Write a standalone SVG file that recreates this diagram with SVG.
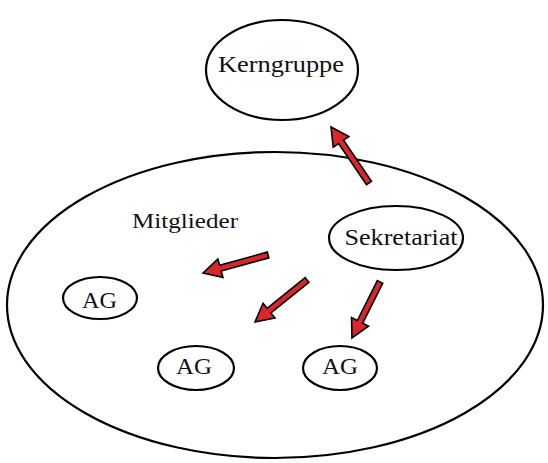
<svg xmlns="http://www.w3.org/2000/svg" width="548" height="463" viewBox="0 0 548 463">
<style>
.n{fill:#fff;stroke:#000;stroke-width:2.2}
.t{font-family:"Liberation Serif","DejaVu Serif",serif;font-size:24px;fill:#111;text-anchor:middle}
.s{font-size:23px}
.a{fill:#d8262b;stroke:#000;stroke-width:1.6;stroke-linejoin:miter}
</style>
<rect width="548" height="463" fill="#fff"/>
<g id="mitglieder">
<ellipse class="n" cx="275" cy="305" rx="268" ry="153"/>
<text class="t" x="185" y="228" style="font-size:22px" textLength="106" lengthAdjust="spacingAndGlyphs">Mitglieder</text>
</g>
<g id="kerngruppe">
<ellipse class="n" cx="282" cy="70" rx="76" ry="50"/>
<text class="t" x="281" y="72" textLength="126" lengthAdjust="spacingAndGlyphs">Kerngruppe</text>
</g>
<g id="sekretariat">
<ellipse class="n" cx="396" cy="238" rx="67" ry="32"/>
<text class="t" x="401" y="245" textLength="113" lengthAdjust="spacingAndGlyphs">Sekretariat</text>
</g>
<g id="ag1">
<ellipse class="n" cx="100" cy="298" rx="37" ry="21"/>
<text class="t s" x="99.5" y="308" textLength="35" lengthAdjust="spacingAndGlyphs">AG</text>
</g>
<g id="ag2">
<ellipse class="n" cx="196" cy="368" rx="38" ry="22"/>
<text class="t s" x="194" y="374" textLength="36" lengthAdjust="spacingAndGlyphs">AG</text>
</g>
<g id="ag3">
<ellipse class="n" cx="340" cy="368" rx="37" ry="22"/>
<text class="t s" x="340" y="374" textLength="36" lengthAdjust="spacingAndGlyphs">AG</text>
</g>
<g id="connectors">
<g transform="translate(369,183) rotate(-124.16)"><polygon class="a" points="0,-3 49.7,-3 49.7,-9.5 67.7,0 49.7,9.5 49.7,3 0,3"/></g>
<g transform="translate(268,255) rotate(164.5)"><polygon class="a" points="0,-3 49.4,-3 49.4,-9.5 67.4,0 49.4,9.5 49.4,3 0,3"/></g>
<g transform="translate(307,280) rotate(141.1)"><polygon class="a" points="0,-3 48.8,-3 48.8,-9.5 66.8,0 48.8,9.5 48.8,3 0,3"/></g>
<g transform="translate(380,282) rotate(116.6)"><polygon class="a" points="0,-3 44.6,-3 44.6,-9.5 62.6,0 44.6,9.5 44.6,3 0,3"/></g>
</g>
</svg>
